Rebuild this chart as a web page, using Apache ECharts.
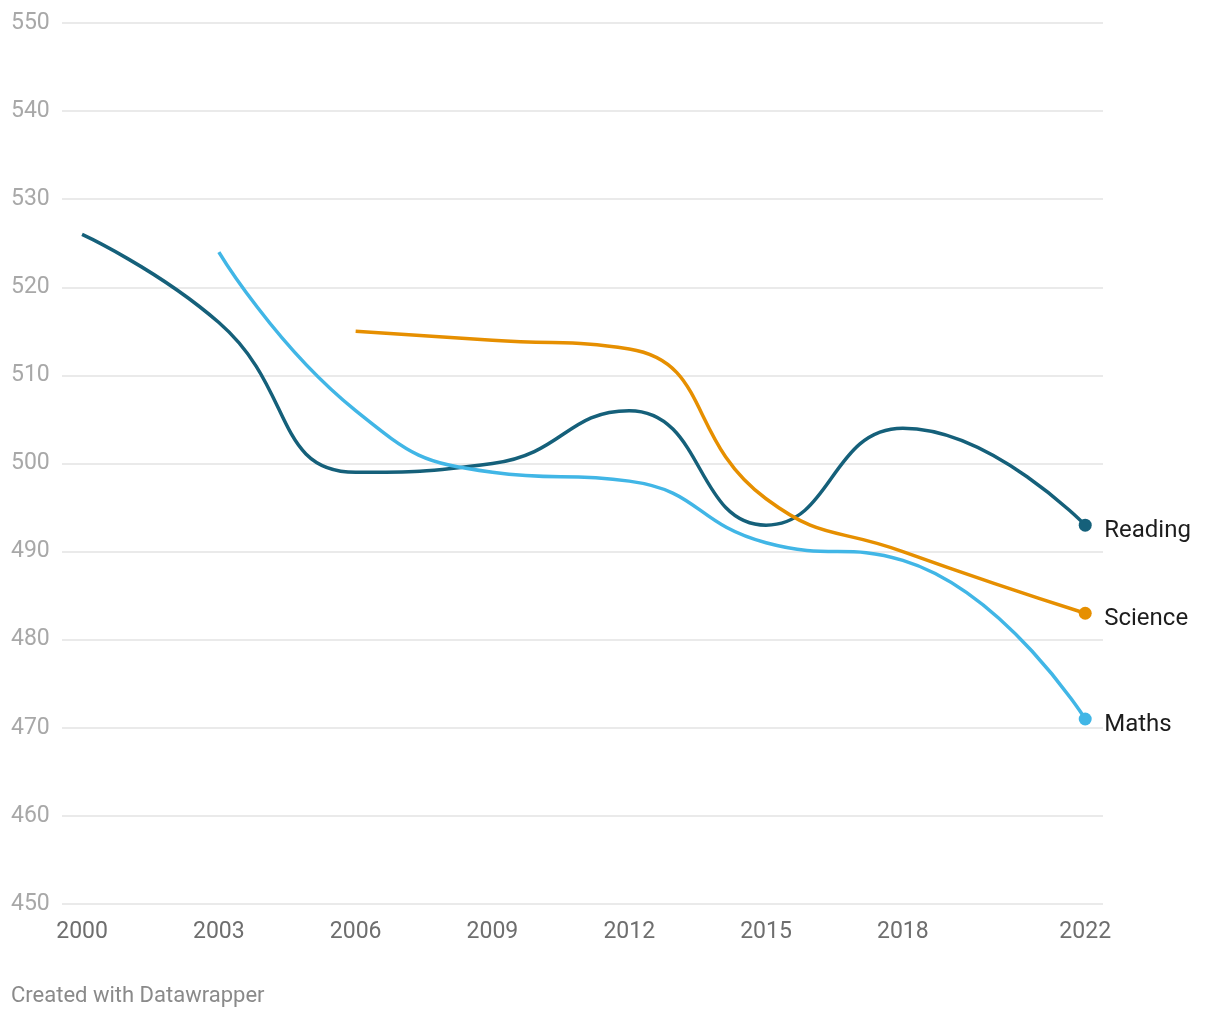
<!DOCTYPE html>
<html>
<head>
<meta charset="utf-8">
<script src="https://cdn.jsdelivr.net/npm/echarts@6/dist/echarts.min.js"></script>
<style>
html,body{margin:0;padding:0;background:#fff;}
#chart{width:1220px;height:1020px;}
</style>
</head>
<body>
<div id="chart"></div>
<script>
const years = [2000, 2003, 2006, 2009, 2012, 2015, 2018, 2022];
const xTicks = [2000, 2003, 2006, 2009, 2012, 2015, 2018, 2022];
const reading = [526, 516, 499, 500, 506, 493, 504, 493];
const maths = [null, 524, 506, 499, 498, 491, 489, 471];
const science = [null, null, 515, 514, 513, 496, 490, 483];
const seriesNames = ['Reading', 'Science', 'Maths'];
const seriesColors = ['#15607a', '#e68f00', '#41b6e6'];

function toData(vals) {
  const out = [];
  vals.forEach((v, i) => {
    if (v === null) return;
    const last = i === vals.length - 1;
    out.push(last ? { value: [years[i], v], symbol: 'circle', symbolSize: 13 } : { value: [years[i], v], symbol: 'none' });
  });
  return out;
}

const allValues = [reading, science, maths];
const chart = echarts.init(document.getElementById('chart'));
chart.setOption({
  animation: false,
  textStyle: { fontFamily: 'Roboto' },
  grid: { left: 62, right: 117, top: 23, bottom: 116 },
  xAxis: {
    type: 'value',
    min: 1999.56,
    max: 2022.39,
    axisLine: { show: false },
    axisTick: { show: false },
    splitLine: { show: false },
    axisLabel: {
      customValues: xTicks,
      color: '#6e6e6e',
      fontSize: 23,
      margin: 17,
      fontFamily: 'Roboto',
      formatter: v => String(v)
    }
  },
  yAxis: {
    type: 'value',
    min: 450,
    max: 550,
    interval: 10,
    axisLine: { show: false },
    axisTick: { show: false },
    splitLine: { lineStyle: { color: '#e3e3e3', width: 1.5 } },
    axisLabel: {
      color: '#a8a8a8',
      fontSize: 23,
      align: 'left',
      margin: 51,
      padding: [3, 0, 0, 0],
      fontFamily: 'Roboto'
    }
  },
  series: seriesNames.map((name, k) => ({
    name: name,
    type: 'line',
    smooth: 0.5,
    showSymbol: true,
    symbol: 'none',
    connectNulls: false,
    data: toData(allValues[k]),
    itemStyle: { color: seriesColors[k] },
    lineStyle: { color: seriesColors[k], width: 3.5 },
    endLabel: {
      show: true,
      formatter: '{a}',
      color: '#1d1d1d',
      fontSize: 24,
      fontFamily: 'Roboto',
      distance: 19,
      offset: [0, 6]
    },
    emphasis: { disabled: true }
  })),
  graphic: [{
    type: 'text',
    left: 11,
    top: 985,
    style: { text: 'Created with Datawrapper', fill: '#8a8a8a', fontSize: 22, fontFamily: 'Roboto' }
  }]
});
</script>
</body>
</html>
